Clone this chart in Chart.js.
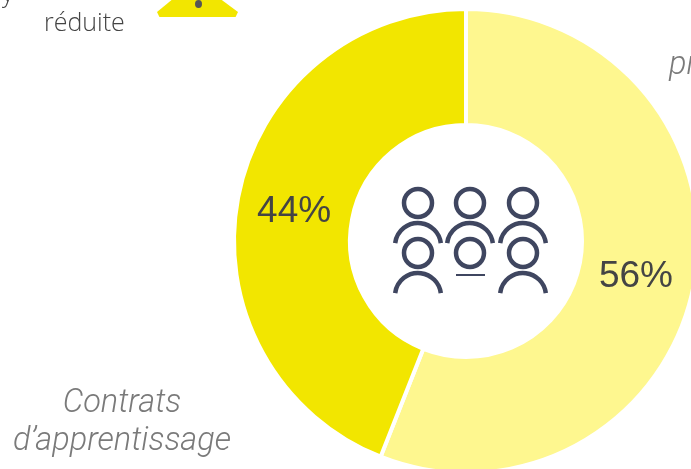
<!DOCTYPE html>
<html>
<head>
<meta charset="utf-8">
<script src="https://cdn.jsdelivr.net/npm/chart.js@4"></script>
<style>
  html, body { margin: 0; padding: 0; width: 691px; height: 469px; overflow: hidden; background: #fff; }
  #wrap { position: absolute; left: 226px; top: 1px; width: 480px; height: 480px; }
  .note { position: absolute; font-family: Roboto, sans-serif; font-weight: 300; white-space: nowrap; line-height: 1; }
  .plain { font-family: "Open Sans", sans-serif; font-size: 25px; color: #444; }
  .cat { font-size: 32.5px; font-style: italic; color: #7a7a7a; text-align: center; }
  #sign { position: absolute; left: 157px; top: 0; width: 81px; height: 17px; background: #f2e600; clip-path: polygon(18% 0, 80% 0, 100% 70%, 97% 100%, 3% 100%, 0 70%); }
  #dot { position: absolute; left: 195px; top: 0; width: 7px; height: 8px; border-radius: 50%; background: #555; }
</style>
</head>
<body>
<div id="wrap"><canvas id="parts" width="480" height="480"></canvas></div>
<div id="sign"></div><div id="dot"></div>
<div class="note plain" style="left:2px;top:-20px">y</div>
<div class="note plain" style="left:44px;top:9px">réduite</div>
<div class="note cat" style="left:669px;top:47px">pr</div>
<div class="note cat" style="left:13px;top:385px;width:218px">Contrats<br><span style="display:block;margin-top:5px">d’apprentissage</span></div>
<script>
const categories = ['Contrats de professionnalisation', 'Contrats d’apprentissage'];
const shares = [56, 44];
const sliceColors = ['#fef78f', '#f2e600'];
const shareLabels = ['56%', '44%'];

// percent labels + the people icon in the hole
const decor = {
  id: 'decor',
  afterDraw(chart) {
    const c = chart.ctx;
    const arcs = chart.getDatasetMeta(0).data;
    c.save();
    c.fillStyle = '#444';
    c.font = '400 37px "Liberation Sans", sans-serif';
    c.textAlign = 'center';
    c.textBaseline = 'middle';
    arcs.forEach((a, i) => {
      const p = a.getCenterPoint();
      c.fillText(shareLabels[i], p.x - 1, p.y + 3);
    });

    const cx = arcs[0].x, cy = arcs[0].y;
    c.strokeStyle = '#3f4660';
    c.lineWidth = 4.5;
    const heads = [[-48, -38], [4, -38], [57, -38], [-48, 12], [4, 12], [57, 12]];
    heads.forEach(h => {
      c.beginPath();
      c.arc(cx + h[0], cy + h[1], 14, 0, Math.PI * 2);
      c.stroke();
    });
    [-48, 4, 57].forEach(x => {
      c.beginPath();
      c.arc(cx + x, cy + 5, 23, Math.PI * 1.04, Math.PI * 1.96);
      c.stroke();
    });
    [-48, 57].forEach(x => {
      c.beginPath();
      c.arc(cx + x, cy + 55, 23, Math.PI * 1.04, Math.PI * 1.96);
      c.stroke();
    });
    c.lineWidth = 2;
    c.beginPath();
    c.moveTo(cx - 10, cy + 34);
    c.lineTo(cx + 19, cy + 34);
    c.stroke();
    c.restore();
  }
};

new Chart(document.getElementById('parts').getContext('2d'), {
  type: 'doughnut',
  data: {
    labels: categories,
    datasets: [{
      data: shares,
      backgroundColor: sliceColors,
      borderColor: '#fff',
      borderWidth: 4
    }]
  },
  options: {
    responsive: false,
    animation: false,
    cutout: 116,
    layout: { padding: 6 },
    plugins: { legend: { display: false }, tooltip: { enabled: false } }
  },
  plugins: [decor]
});
</script>
</body>
</html>
